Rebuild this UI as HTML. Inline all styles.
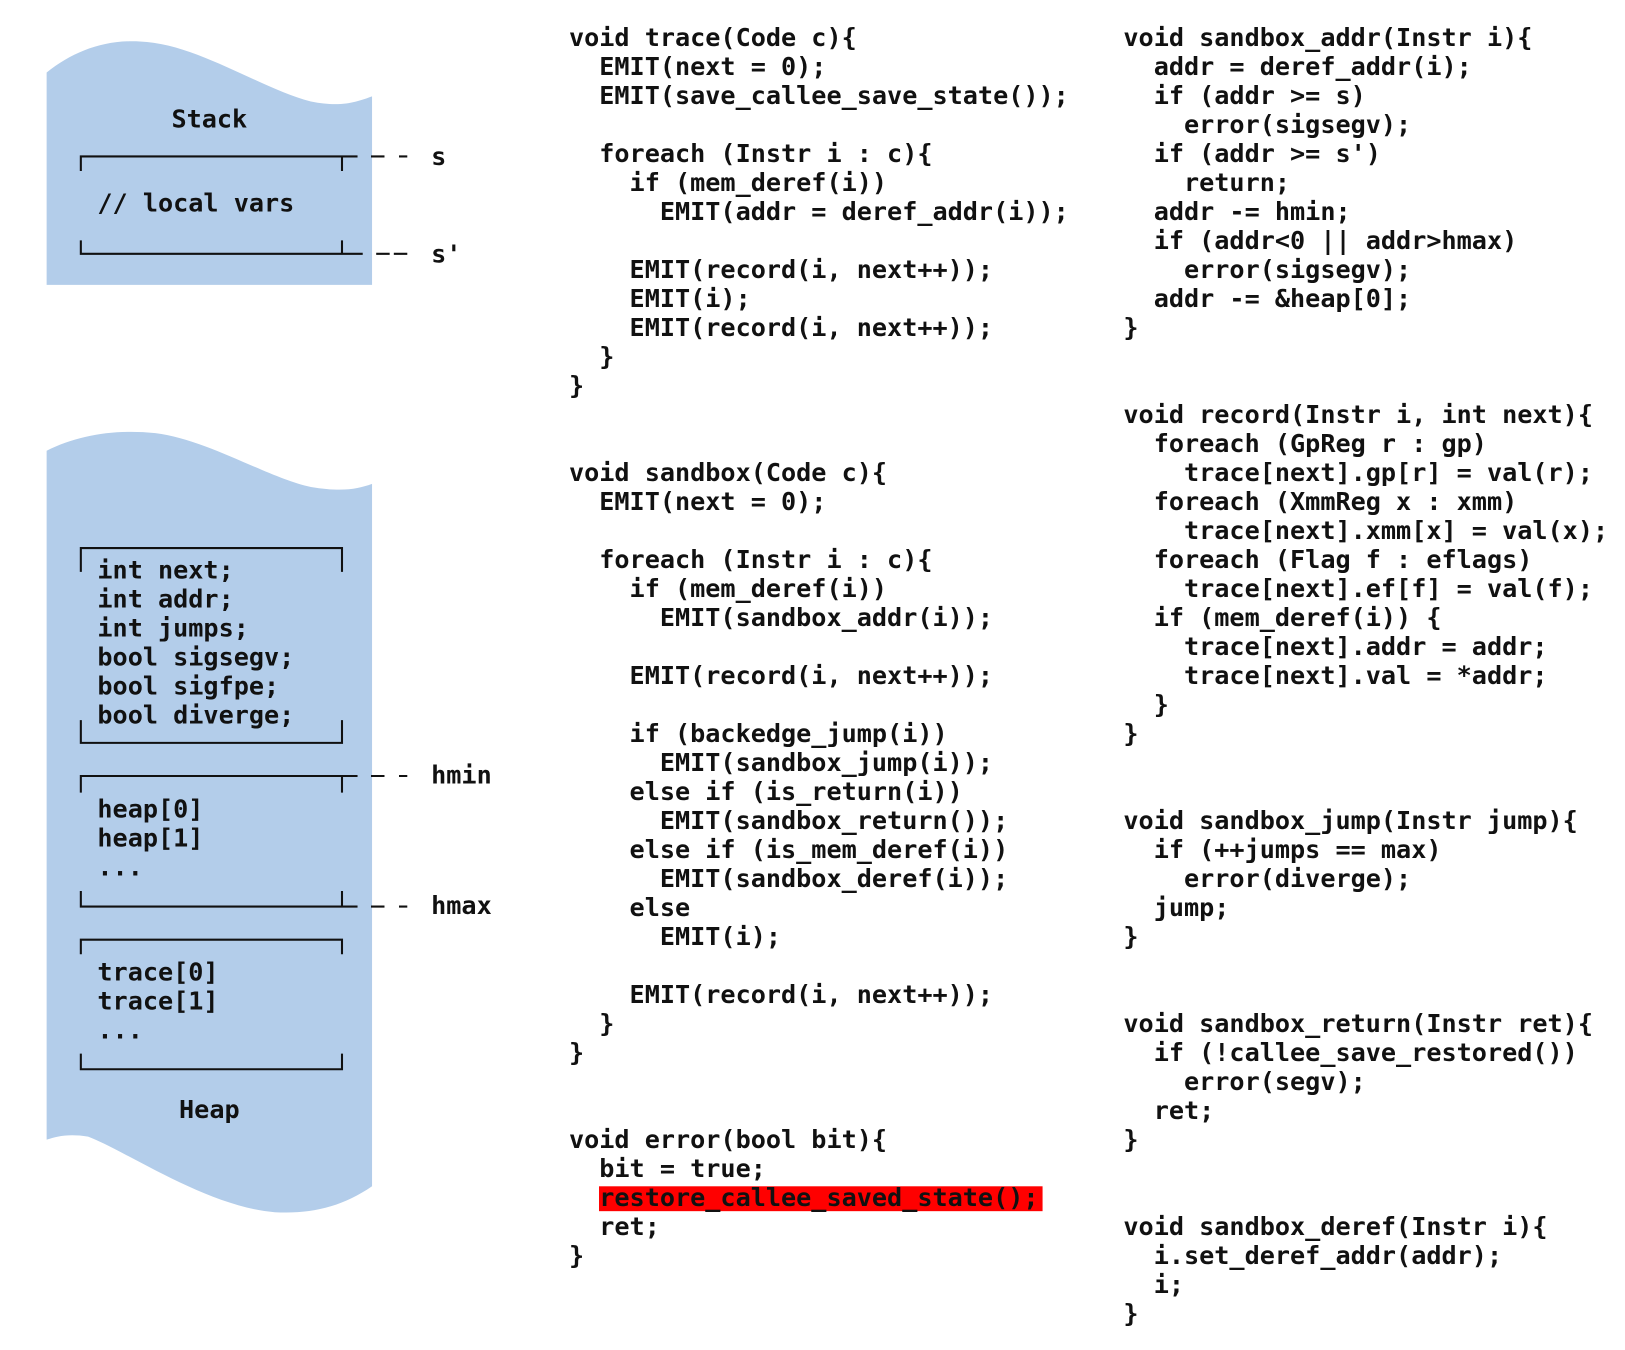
<!DOCTYPE html>
<html><head><meta charset="utf-8"><style>
html,body{margin:0;padding:0;background:#fff;width:1625px;height:1350px;overflow:hidden}
svg text{font-family:"DejaVu Sans Mono","Liberation Mono",monospace;font-weight:bold;font-size:24.3px;fill:#111;white-space:pre}
</style></head><body>
<svg width="1625" height="1350" viewBox="0 0 1568 1303" preserveAspectRatio="none" xmlns="http://www.w3.org/2000/svg">
<g>
<path d="M45 70 C70 50 100 38 135 40 C190 42 250 85 300 98 C330 104 345 98 359 93 L359 275 L45 275 Z" fill="#b3cdea"/>
<path d="M45 435 C75 420 110 414 150 418 C200 424 260 462 300 470 C330 475 345 472 359 467 L359 1145 C330 1165 300 1172 265 1170 C200 1165 120 1110 85 1097 C65 1094 55 1097 45 1100 Z" fill="#b3cdea"/>
<g stroke="#111" stroke-width="2" fill="none">
<path d="M78 165 V151 H345 M330 151 V165"/>
<path d="M358 151 H371 M385 151 H393"/>
<path d="M78 232 V245 H350 M330 245 V232"/>
<path d="M363 245 H376 M380 245 H393"/>
<path d="M78 552 V529 H330 V552"/>
<path d="M78 695 V717 H330 V695"/>
<path d="M78 765 V749 H345 M330 749 V765"/>
<path d="M358 749 H371 M385 749 H393"/>
<path d="M78 860 V875 H345 M330 875 V860"/>
<path d="M358 875 H371 M385 875 H393"/>
<path d="M78 921 V907 H330 V921"/>
<path d="M78 1017 V1032 H330 V1017"/>
</g>
<g dominant-baseline="central">
<text x="202" y="115" text-anchor="middle">Stack</text>
<text x="94" y="196">// local vars</text>
<text x="416" y="151">s</text>
<text x="416" y="245">s'</text>
<text x="94" y="550">int next;</text>
<text x="94" y="578">int addr;</text>
<text x="94" y="606">int jumps;</text>
<text x="94" y="634">bool sigsegv;</text>
<text x="94" y="662">bool sigfpe;</text>
<text x="94" y="690">bool diverge;</text>
<text x="416" y="748">hmin</text>
<text x="94" y="781">heap[0]</text>
<text x="94" y="809">heap[1]</text>
<text x="94" y="837">...</text>
<text x="416" y="874">hmax</text>
<text x="94" y="938">trace[0]</text>
<text x="94" y="966">trace[1]</text>
<text x="94" y="994">...</text>
<text x="202" y="1071" text-anchor="middle">Heap</text>

<rect x="578" y="1145" width="428" height="24" fill="#ff0000"/>

<text x="549" y="36">void trace(Code c){</text>
<text x="549" y="64">  EMIT(next = 0);</text>
<text x="549" y="92">  EMIT(save_callee_save_state());</text>
<text x="549" y="148">  foreach (Instr i : c){</text>
<text x="549" y="176">    if (mem_deref(i))</text>
<text x="549" y="204">      EMIT(addr = deref_addr(i));</text>
<text x="549" y="260">    EMIT(record(i, next++));</text>
<text x="549" y="288">    EMIT(i);</text>
<text x="549" y="316">    EMIT(record(i, next++));</text>
<text x="549" y="344">  }</text>
<text x="549" y="372">}</text>
<text x="549" y="456">void sandbox(Code c){</text>
<text x="549" y="484">  EMIT(next = 0);</text>
<text x="549" y="540">  foreach (Instr i : c){</text>
<text x="549" y="568">    if (mem_deref(i))</text>
<text x="549" y="596">      EMIT(sandbox_addr(i));</text>
<text x="549" y="652">    EMIT(record(i, next++));</text>
<text x="549" y="708">    if (backedge_jump(i))</text>
<text x="549" y="736">      EMIT(sandbox_jump(i));</text>
<text x="549" y="764">    else if (is_return(i))</text>
<text x="549" y="792">      EMIT(sandbox_return());</text>
<text x="549" y="820">    else if (is_mem_deref(i))</text>
<text x="549" y="848">      EMIT(sandbox_deref(i));</text>
<text x="549" y="876">    else</text>
<text x="549" y="904">      EMIT(i);</text>
<text x="549" y="960">    EMIT(record(i, next++));</text>
<text x="549" y="988">  }</text>
<text x="549" y="1016">}</text>
<text x="549" y="1100">void error(bool bit){</text>
<text x="549" y="1128">  bit = true;</text>
<text x="549" y="1156">  restore_callee_saved_state();</text>
<text x="549" y="1184">  ret;</text>
<text x="549" y="1212">}</text>

<text x="1084" y="36">void sandbox_addr(Instr i){</text>
<text x="1084" y="64">  addr = deref_addr(i);</text>
<text x="1084" y="92">  if (addr &gt;= s)</text>
<text x="1084" y="120">    error(sigsegv);</text>
<text x="1084" y="148">  if (addr &gt;= s')</text>
<text x="1084" y="176">    return;</text>
<text x="1084" y="204">  addr -= hmin;</text>
<text x="1084" y="232">  if (addr&lt;0 || addr&gt;hmax)</text>
<text x="1084" y="260">    error(sigsegv);</text>
<text x="1084" y="288">  addr -= &amp;heap[0];</text>
<text x="1084" y="316">}</text>
<text x="1084" y="400">void record(Instr i, int next){</text>
<text x="1084" y="428">  foreach (GpReg r : gp)</text>
<text x="1084" y="456">    trace[next].gp[r] = val(r);</text>
<text x="1084" y="484">  foreach (XmmReg x : xmm)</text>
<text x="1084" y="512">    trace[next].xmm[x] = val(x);</text>
<text x="1084" y="540">  foreach (Flag f : eflags)</text>
<text x="1084" y="568">    trace[next].ef[f] = val(f);</text>
<text x="1084" y="596">  if (mem_deref(i)) {</text>
<text x="1084" y="624">    trace[next].addr = addr;</text>
<text x="1084" y="652">    trace[next].val = *addr;</text>
<text x="1084" y="680">  }</text>
<text x="1084" y="708">}</text>
<text x="1084" y="792">void sandbox_jump(Instr jump){</text>
<text x="1084" y="820">  if (++jumps == max)</text>
<text x="1084" y="848">    error(diverge);</text>
<text x="1084" y="876">  jump;</text>
<text x="1084" y="904">}</text>
<text x="1084" y="988">void sandbox_return(Instr ret){</text>
<text x="1084" y="1016">  if (!callee_save_restored())</text>
<text x="1084" y="1044">    error(segv);</text>
<text x="1084" y="1072">  ret;</text>
<text x="1084" y="1100">}</text>
<text x="1084" y="1184">void sandbox_deref(Instr i){</text>
<text x="1084" y="1212">  i.set_deref_addr(addr);</text>
<text x="1084" y="1240">  i;</text>
<text x="1084" y="1268">}</text>
</g>
</g>
</svg>
</body></html>
